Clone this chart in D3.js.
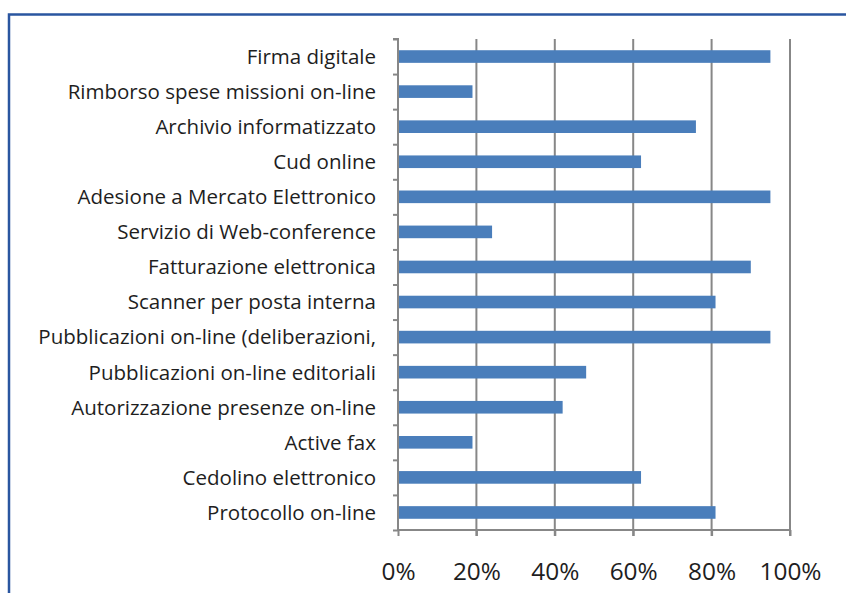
<!DOCTYPE html>
<html><head><meta charset="utf-8">
<script src="https://cdn.jsdelivr.net/npm/d3@7"></script>
<style>body{margin:0;background:#fff}svg{display:block}</style>
</head><body>
<svg id="c" width="846" height="593"></svg>
<script>
const categories = ["Firma digitale","Rimborso spese missioni on-line","Archivio informatizzato","Cud online","Adesione a Mercato Elettronico","Servizio di Web-conference","Fatturazione elettronica","Scanner per posta interna","Pubblicazioni on-line (deliberazioni,","Pubblicazioni on-line editoriali","Autorizzazione presenze on-line","Active fax","Cedolino elettronico","Protocollo on-line"];
const values = [95,19,76,62,95,24,90,81,95,48,42,19,62,81];
const tickValues = [0,20,40,60,80,100];

const FONT = "'Open Sans', sans-serif";
const svg = d3.select("#c");
svg.append("path").attr("d","M9,593 L9,14.5 L846,14.5").attr("fill","none").attr("stroke","#2a56a0").attr("stroke-width",2.5);

const x = d3.scaleLinear().domain([0,100]).range([398,790]);
const y = d3.scaleBand().domain(categories).range([39,530]).paddingInner(0.64).paddingOuter(0.32);

svg.append("g").selectAll("line").data(tickValues.slice(1)).join("line")
  .attr("x1",d=>x(d)).attr("x2",d=>x(d)).attr("y1",39).attr("y2",536)
  .attr("stroke","#878787").attr("stroke-width",2);

svg.append("g").selectAll("rect").data(categories).join("rect")
  .attr("x",x(0)).attr("y",d=>y(d)).attr("height",y.bandwidth())
  .attr("width",(d,i)=>x(values[i])-x(0)).attr("fill","#4a7ebb");

const yAxis = d3.axisLeft(d3.scaleLinear().domain([0,categories.length]).range([39,530]))
  .ticks(categories.length).tickSize(5).tickFormat("");
const ya = svg.append("g").attr("transform","translate(398,0)").call(yAxis);
ya.selectAll("path,line").attr("stroke","#878787").attr("stroke-width",2);
ya.select(".domain").attr("d","M-5,39H0V530");

const xa = svg.append("g").attr("transform","translate(0,530)")
  .call(d3.axisBottom(x).tickValues(tickValues).tickSize(6).tickPadding(0).tickFormat(d=>d+"%"));
xa.selectAll("path,line").attr("stroke","#878787").attr("stroke-width",2);
xa.select(".domain").attr("d","M398,0H790");
const xt = xa.selectAll("text").attr("font-family",FONT).attr("font-size",20).attr("fill","#1e1e1e").attr("dy",0).attr("y",50);
// fit tick font so "100%" is ~62px wide
let w100 = xt.filter(d=>d===100).node().getComputedTextLength();
xt.attr("font-size",20*62/w100);

const labels = svg.append("g").selectAll("text").data(categories).join("text")
  .attr("x",376).attr("y",d=>y(d)+y.bandwidth()/2).attr("dy","0.36em")
  .attr("text-anchor","end").attr("font-family",FONT).attr("font-size",18)
  .attr("fill","#1e1e1e").text(d=>d);
let wmax = d3.max(labels.nodes(),n=>n.getComputedTextLength());
labels.attr("font-size",18*338/wmax);
</script>
</body></html>
